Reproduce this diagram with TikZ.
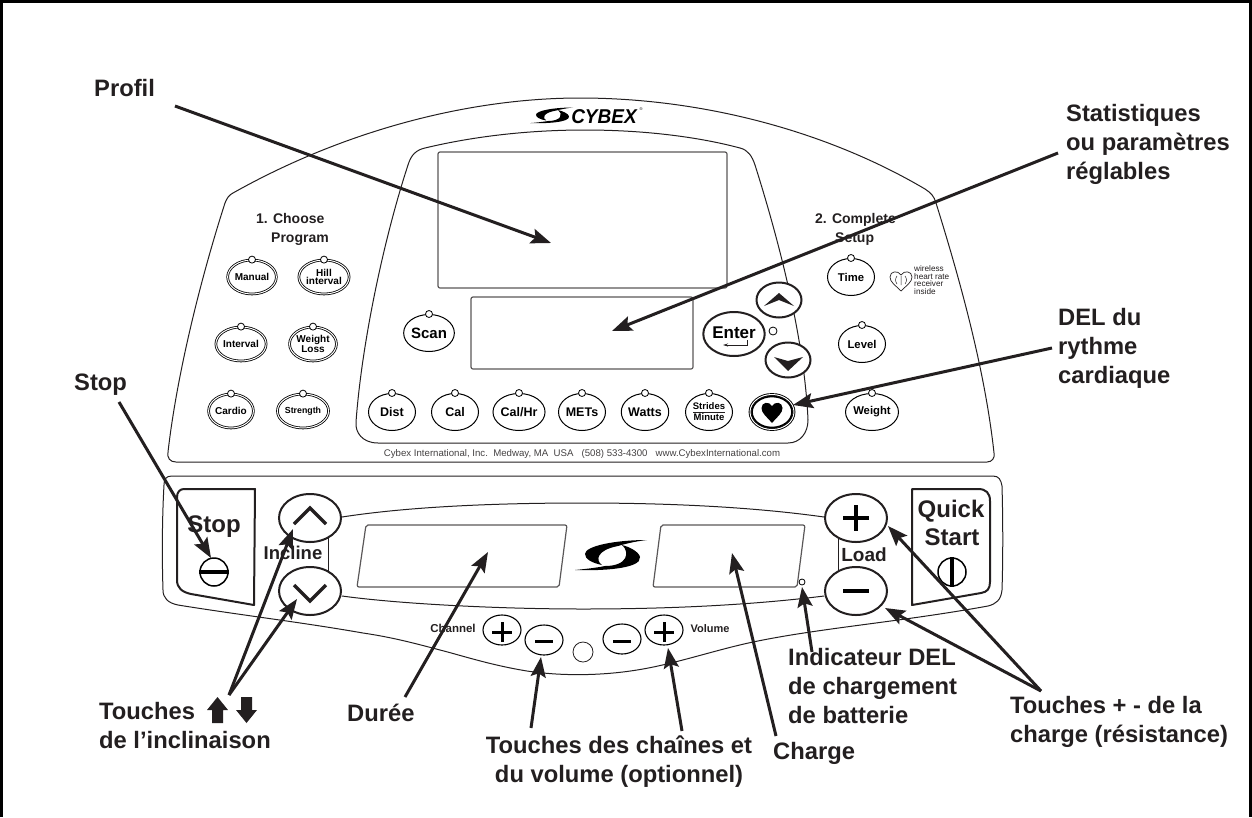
\documentclass[tikz,border=0pt]{standalone}
\usepackage{fontspec}
\setmainfont{Liberation Sans}
\usetikzlibrary{shapes.geometric,arrows.meta}
\definecolor{ink}{HTML}{231F20}
\newcommand{\cyswoosh}{%
  \fill[black] (72,0) .. controls (40,0) and (10,6) .. (10,14) .. controls (10,19) and (17,23) .. (27,25)
    .. controls (20,20) and (22,10) .. (43,6) .. controls (53,3) and (63,1) .. (72,0) -- cycle;
  \fill[black] (0,30) .. controls (25,31) and (67,29) .. (65,17) .. controls (64,12) and (55,7) .. (47,5)
    .. controls (55,12) and (53,26) .. (30,26) .. controls (20,28) and (10,29) .. (0,30) -- cycle;
}
\tikzset{
  panel/.style={draw=ink,line width=1pt,line join=round},
  screen/.style={draw=ink!75,line width=1.2pt,rounded corners=2pt},
  callout/.style={draw=ink,line width=3pt,-{Stealth[length=20pt,width=15pt,inset=3.5pt]}},
  lbl/.style={font=\bfseries\fontsize{23.75}{28.7}\selectfont,text=ink,inner sep=0pt,align=left,anchor=base west},
  btn/.style={ellipse,draw=black,line width=1pt,fill=white,inner sep=0pt,minimum width=47pt,minimum height=37pt,align=center,font=\bfseries\fontsize{11}{11}\selectfont},
  prog/.style={btn,double=white,double distance=1pt,line width=.8pt,minimum width=44pt,minimum height=34pt,font=\bfseries\fontsize{10}{8.5}\selectfont},
  thick btn/.style={ellipse,draw=ink,fill=white,line width=2pt,inner sep=0pt},
  led/.style={circle,draw=black,line width=.8pt,fill=white,inner sep=0pt,minimum size=7pt},
  plain/.style={inner sep=0pt,text=ink,font=\bfseries\fontsize{#1}{#1}\selectfont,align=center},
  plain/.default=10,
  small btn/.style={ellipse,draw=black,line width=1.1pt,fill=white,inner sep=0pt,minimum width=38pt,minimum height=30pt},
}
\begin{document}
\begin{tikzpicture}[x=1pt,y=-1pt]
\useasboundingbox (0,0) rectangle (1252,817);
\draw[black,line width=2.8pt] (1.5,817) -- (1.5,1.5) -- (1250.5,1.5) -- (1250.5,817);

% upper console
\draw[panel] (176,462) .. controls (170,462) and (167,458) .. (168,452)
  .. controls (178,365) and (205,265) .. (225,203)
  .. controls (227,198) and (229,195) .. (233,193)
  .. controls (345,130) and (470,98) .. (580,98)
  .. controls (700,98) and (825,130) .. (925,189)
  .. controls (931,193) and (934,196) .. (936,203)
  .. controls (960,280) and (985,370) .. (994,453)
  .. controls (995,458) and (992,462) .. (987,462) -- cycle;
\draw[panel] (378,443) .. controls (362,443) and (355,432) .. (356,422)
  .. controls (362,340) and (385,235) .. (408,165)
  .. controls (411,155) and (416,150) .. (425,148)
  .. controls (475,136) and (530,130) .. (585,130)
  .. controls (640,130) and (695,136) .. (740,148)
  .. controls (748,150) and (752,156) .. (755,165)
  .. controls (785,260) and (805,350) .. (808,420)
  .. controls (808,433) and (800,443) .. (788,443) -- cycle;
\draw[screen] (438,152) rectangle (727,288);
\draw[screen] (471,297) rectangle (693,369);

% logo
\begin{scope}[shift={(530,107.5)},xscale=.6,yscale=.52]\cyswoosh\end{scope}
\node[inner sep=0pt,anchor=base] (cybexname) at (604,123) {\fontsize{20}{20}\selectfont\bfseries\itshape\scalebox{.95}[1]{CYBEX}};
\node[inner sep=0pt] (reg) at (641,109) {\fontsize{4}{4}\selectfont ®};

% program texts
\node[lbl,font=\bfseries\fontsize{14}{19}\selectfont] (choose) at (256,242) {1. Choose\\\hspace*{15pt}Program};
\node[lbl,font=\bfseries\fontsize{14}{19}\selectfont] (complete) at (815,242) {2. Complete\\\hspace*{20pt}Setup};

% program buttons
\foreach \n/\x/\y/\t in {manual/252/277/Manual,hill/324/277/{Hill\\interval},interval/241/344/Interval,wloss/313/344/{Weight\\Loss},cardio/231/411/Cardio,strength/303/411/{\fontsize{8.8}{8.8}\selectfont Strength}}{
  \node[prog] (\n) at (\x,\y) {\t};
  \node[led] (\n led) at (\n.north) {};
}
\foreach \n/\x/\y/\t in {time/851/277/Time,level/862/344/Level,weight/872/412/Weight}{
  \node[btn,font=\bfseries\fontsize{11.3}{11}\selectfont] (\n) at (\x,\y) {\t};
  \node[led] (\n led) at (\n.north) {};
}
\foreach \n/\x/\y/\t/\s in {scan/429/333/Scan/15,dist/392/412/Dist/12.5,cal/455/412/Cal/12.5,calhr/519/412/{Cal/Hr}/12.5,mets/582/412/METs/12.5,watts/645/412/Watts/12.5}{
  \node[btn,font=\bfseries\fontsize{\s}{\s}\selectfont] (\n) at (\x,\y) {\t};
  \node[led] (\n led) at (\n.north) {};
}
\node[btn,font=\bfseries\fontsize{9.5}{11}\selectfont] (strides) at (709,412) {Strides\\Minute};
\draw[ink,line width=.7pt] (693,412) -- (725,412);
\node[led] (strides led) at (strides.north) {};
\node[btn,double=white,double distance=1pt,line width=.9pt,minimum width=44pt,minimum height=35pt] (heart) at (772,412) {};
\draw[black,line width=1.6pt] (772,412) ellipse (20 and 15.5);
\fill[black] (772,423) .. controls (766,416) and (761.5,413) .. (761.5,408) .. controls (761.5,402) and (769,401) .. (772,406) .. controls (775,401) and (782.5,402) .. (782.5,408) .. controls (782.5,413) and (778,416) .. (772,423) -- cycle;

\node[thick btn,minimum width=57pt,minimum height=44pt,font=\bfseries\fontsize{17}{17}\selectfont] (enter) at (734,334) {\raisebox{3pt}{Enter}};
\draw[ink,line width=.9pt,-{Stealth[length=5pt,width=3pt]}] (747,340) -- (747,345) -- (723,345);
\node[thick btn,minimum width=45pt,minimum height=35pt] (upper up) at (779,300) {};
\fill[ink] (764,306) -- (779,293) -- (794,306) -- (779,300) -- cycle;
\node[thick btn,minimum width=45pt,minimum height=35pt] (upper down) at (788,360) {};
\fill[ink] (774,357) -- (788,371) -- (803,357) -- (788,361) -- cycle;
\node[led,minimum size=8pt] (enter led) at (773,331) {};

% wireless
\draw[ink,line width=.7pt] (901,291) .. controls (895,285) and (890,282) .. (890,277) .. controls (890,271) and (898,270) .. (901,275) .. controls (904,270) and (912,271) .. (912,277) .. controls (912,282) and (907,285) .. (901,291) -- cycle;
\draw[ink,line width=.5pt] (901,276) -- (901,285) (897,276) .. controls (895,279) and (895,281) .. (897,284) (905,276) .. controls (907,279) and (907,281) .. (905,284);
\node[inner sep=0pt,text=ink,align=left,anchor=west,font=\fontsize{8.2}{7.6}\selectfont] (wireless) at (914,280) {wireless\\heart rate\\receiver\\inside};

\node[inner sep=0pt,text=ink!85,font=\fontsize{9.65}{10}\selectfont] (address) at (582,454) {Cybex International, Inc.\ \ Medway, MA\ \ USA\ \ \ (508) 533-4300\ \ \ www.CybexInternational.com};

% lower console
\draw[panel] (172,476) -- (993,476) .. controls (999,476) and (1001,480) .. (1002,486)
  .. controls (1003,520) and (1003,560) .. (1002,590)
  .. controls (1001,600) and (996,604) .. (988,606)
  .. controls (900,622) and (820,628) .. (753,642)
  .. controls (715,650) and (675,664) .. (637,670)
  .. controls (600,676) and (560,676) .. (527,671)
  .. controls (490,665) and (460,655) .. (440,650)
  .. controls (410,642) and (390,637) .. (363,633)
  .. controls (300,622) and (240,615) .. (178,605)
  .. controls (168,603) and (163,598) .. (163,590)
  .. controls (162,560) and (162,520) .. (164,485)
  .. controls (164,479) and (166,476) .. (172,476) -- cycle;
\draw[panel] (342,517) .. controls (400,508) and (480,503) .. (583,503) .. controls (680,503) and (760,508) .. (824,517);
\draw[panel] (342,596) .. controls (400,604) and (500,609) .. (583,609) .. controls (680,609) and (760,604) .. (824,596);
\draw[panel] (328,536) -- (328,574);
\draw[panel] (838,536) -- (838,574);
\draw[screen] (366,525) -- (567,525) -- (559,587) -- (357,587) -- cycle;
\draw[screen] (661,525) -- (805,525) -- (797,587) -- (653,587) -- cycle;
\begin{scope}[shift={(575,540)}]\cyswoosh\end{scope}

% stop
\draw[ink,line width=2pt,line join=round] (184,489) -- (255,489) -- (254,605) -- (191,594) .. controls (182,592) and (177,588) .. (177,580) -- (177,497) .. controls (177,492) and (180,489) .. (184,489) -- cycle;
\node[plain=24] (stoptext) at (214,527) {Stop};
\node[circle,draw=black,line width=1.5pt,fill=white,inner sep=0pt,minimum size=28pt] (stopsym) at (214,572) {};
\draw[black,line width=3.5pt] (stopsym.west) -- (stopsym.east);

% quick start
\draw[ink,line width=2pt,line join=round] (912,489) -- (978,489) .. controls (986,489) and (990,493) .. (990,501) -- (990,582) .. controls (990,589) and (987,592) .. (981,593) -- (912,605) -- cycle;
\node[plain=24] (quick) at (951,511) {Quick};
\node[plain=24] (start) at (952,537) {Start};
\node[circle,draw=black,line width=1.5pt,fill=white,inner sep=0pt,minimum size=28pt] (startsym) at (952,572) {};
\draw[black,line width=3.5pt] (startsym.north) -- (startsym.south);

% big buttons
\node[thick btn,minimum width=62pt,minimum height=48pt] (incup) at (310,518) {};
\draw[ink,line width=3.5pt] (294,524) -- (310,508) -- (326,524);
\node[thick btn,minimum width=62pt,minimum height=48pt] (incdown) at (310,591) {};
\draw[ink,line width=3.5pt] (294,585) -- (310,601) -- (326,585);
\node[plain=18.5] (incline) at (293,553) {Incline};
\node[thick btn,minimum width=62pt,minimum height=48pt] (loadplus) at (856,518) {};
\draw[black,line width=3.5pt] (843,518) -- (869,518) (856,505) -- (856,531);
\node[thick btn,minimum width=62pt,minimum height=48pt] (loadminus) at (856,591) {};
\draw[black,line width=3.5pt] (843,591) -- (869,591);
\node[plain=19] (load) at (864,555) {Load};
\node[led,minimum size=6pt] (battled) at (802,582) {};

% small buttons
\node[small btn] (chplus) at (502,630) {};
\draw[black,line width=3pt] (492,632) -- (512,632) (502,622) -- (502,642);
\node[small btn] (chminus) at (544,640) {};
\draw[black,line width=3pt] (535,641) -- (553,641);
\node[circle,draw=ink,line width=.8pt,minimum size=20pt,inner sep=0pt] (hole) at (583,652) {};
\node[small btn] (volminus) at (622,639) {};
\draw[black,line width=3pt] (613,641) -- (631,641);
\node[small btn] (volplus) at (664,630) {};
\draw[black,line width=3pt] (654,632) -- (674,632) (664,622) -- (664,642);
\node[plain=11.5] (channel) at (453,628) {Channel};
\node[plain=11] (volume) at (710,629) {Volume};

% labels
\node[lbl] (profil) at (94,96) {Profil};
\node[lbl] (stats) at (1066,179) {Statistiques\\ou paramètres\\réglables};
\node[lbl] (delrc) at (1058,383) {DEL du\\rythme\\cardiaque};
\node[lbl] (stoplabel) at (74,390) {Stop};
\node[lbl] (tinc) at (99,748) {Touches\\de l’inclinaison};
\node[lbl] (duree) at (347,721) {Durée};
\node[lbl,anchor=base,align=center] (tchan) at (619,782) {Touches des chaînes et\\du volume (optionnel)};
\node[lbl] (charge) at (773,759) {Charge};
\node[lbl] (indic) at (788,723) {Indicateur DEL\\de chargement\\de batterie};
\node[lbl] (tload) at (1010,742) {Touches + - de la\\charge (résistance)};

% bold arrows in label
\fill[ink] (217.5,697) -- (228,710) -- (223,710) -- (223,723) -- (212,723) -- (212,710) -- (207,710) -- cycle;
\fill[ink] (246.5,723) -- (236,710) -- (241,710) -- (241,697) -- (252,697) -- (252,710) -- (257,710) -- cycle;

% callouts
\coordinate (ap) at (551,243);
\coordinate (as) at (612,331);
\coordinate (ad) at (793,405);
\coordinate (ast) at (211,558);
\coordinate (ai1) at (293,529);
\coordinate (ai2) at (297,599);
\coordinate (adu) at (488,552);
\coordinate (ach) at (541,657);
\coordinate (avo) at (668,648);
\coordinate (acg) at (732,553);
\coordinate (abt) at (802,587);
\coordinate (al1) at (888,526);
\coordinate (al2) at (885,608);
\coordinate (sp) at (175,106);
\coordinate (ss) at (1058,153);
\coordinate (sd) at (1052,348);
\coordinate (sst) at (119,402);
\coordinate (si) at (229,695);
\coordinate (sdu) at (405,697);
\coordinate (sch) at (531,728);
\coordinate (svo) at (682,731);
\coordinate (scg) at (776,736);
\coordinate (sbt) at (812,652);
\coordinate (sl) at (1041,691);
\draw[callout] (sp) -- (ap);
\draw[callout] (ss) -- (as);
\draw[callout] (sd) -- (ad);
\draw[callout] (sst) -- (ast);
\draw[callout] (si) -- (ai1);
\draw[callout] (si) -- (ai2);
\draw[callout] (sdu) -- (adu);
\draw[callout] (sch) -- (ach);
\draw[callout] (svo) -- (avo);
\draw[callout] (scg) -- (acg);
\draw[callout] (sbt) -- (abt);
\draw[callout] (sl) -- (al1);
\draw[callout] (sl) -- (al2);
\end{tikzpicture}
\end{document}
